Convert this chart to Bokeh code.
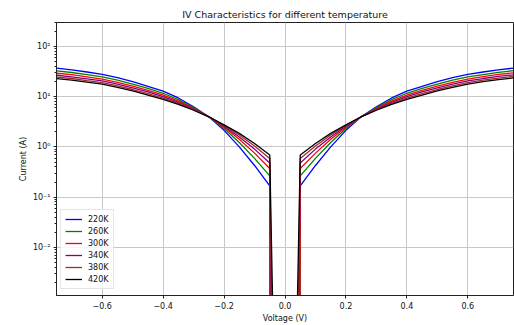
import math
from bokeh.plotting import figure
from bokeh.models import Range1d, FixedTicker, Legend, LegendItem
from bokeh.embed import file_html
from bokeh.resources import INLINE

# ---------------- data ----------------
temperatures = ["220K", "260K", "300K", "340K", "380K", "420K"]
colors = ["#0000ff", "#008000", "#ff0000", "#800080", "#a52a2a", "#000000"]

v_neg = [-0.75, -0.70, -0.65, -0.60, -0.55, -0.50, -0.45, -0.40,
         -0.35, -0.30, -0.25, -0.20, -0.15, -0.10, -0.05]
v_pos = [0.05, 0.10, 0.15, 0.20, 0.25, 0.30, 0.35, 0.40,
         0.45, 0.50, 0.55, 0.60, 0.65, 0.70, 0.75]
v_tail_neg = -0.04
v_tail_pos = 0.04

i_neg_220 = [37.0, 34.3, 31.0, 27.7, 23.9, 19.9, 16.1, 12.9, 9.44, 6.31, 3.98, 2.14, 1.00, 0.427, 0.167]
i_neg_260 = [32.7, 30.3, 27.5, 24.7, 21.3, 17.8, 14.6, 11.7, 8.74, 6.05, 3.98, 2.32, 1.22, 0.592, 0.265]
i_neg_300 = [29.3, 27.4, 24.8, 22.4, 19.3, 16.2, 13.3, 10.7, 8.18, 5.83, 3.98, 2.46, 1.42, 0.752, 0.371]
i_neg_340 = [26.7, 24.9, 22.7, 20.6, 17.7, 15.0, 12.4, 9.98, 7.72, 5.66, 3.98, 2.58, 1.58, 0.904, 0.480]
i_neg_380 = [24.6, 23.0, 20.9, 19.1, 16.4, 13.9, 11.5, 9.35, 7.33, 5.51, 3.98, 2.67, 1.73, 1.04, 0.587]
i_neg_420 = [22.8, 21.4, 19.5, 17.8, 15.3, 13.0, 10.8, 8.81, 7.00, 5.37, 3.98, 2.75, 1.86, 1.17, 0.693]

i_pos_220 = [0.167, 0.427, 1.00, 2.14, 3.98, 6.31, 9.44, 12.9, 16.1, 19.9, 23.9, 27.7, 31.0, 34.3, 37.0]
i_pos_260 = [0.265, 0.592, 1.22, 2.32, 3.98, 6.05, 8.74, 11.7, 14.6, 17.8, 21.3, 24.7, 27.6, 30.5, 33.0]
i_pos_300 = [0.371, 0.752, 1.42, 2.46, 3.98, 5.83, 8.18, 10.7, 13.3, 16.2, 19.3, 22.4, 25.0, 27.7, 29.8]
i_pos_340 = [0.480, 0.904, 1.58, 2.58, 3.98, 5.66, 7.72, 9.98, 12.4, 15.0, 17.7, 20.6, 23.0, 25.3, 27.3]
i_pos_380 = [0.587, 1.04, 1.73, 2.67, 3.98, 5.51, 7.33, 9.35, 11.5, 13.9, 16.4, 19.1, 21.3, 23.5, 25.3]
i_pos_420 = [0.693, 1.17, 1.86, 2.75, 3.98, 5.37, 7.00, 8.81, 10.8, 13.0, 15.3, 17.8, 19.9, 21.9, 23.6]

# current just inside |V| = 0.04 (far below the visible range)
i_tail = [1e-30, 1e-30, 1e-30, 1e-6, 1e-5, 5e-4]

x_ticks = [-0.6, -0.4, -0.2, 0, 0.2, 0.4, 0.6]
x_tick_labels = ["\u22120.6", "\u22120.4", "\u22120.2", "0.0", "0.2", "0.4", "0.6"]
y_ticks = [1e-2, 1e-1, 1, 10, 100]
y_tick_labels = ["10\u207b\u00b2", "10\u207b\u00b9", "10\u2070", "10\u00b9", "10\u00b2"]

neg_series = [i_neg_220, i_neg_260, i_neg_300, i_neg_340, i_neg_380, i_neg_420]
pos_series = [i_pos_220, i_pos_260, i_pos_300, i_pos_340, i_pos_380, i_pos_420]

# ---------------- figure ----------------
FONT = "DejaVu Sans"
p = figure(width=514, height=325, output_backend="svg", toolbar_location=None,
           y_axis_type="log",
           x_range=Range1d(-0.75, 0.75), y_range=Range1d(1.1e-3, 300),
           min_border_left=56, min_border_right=1, min_border_top=22, min_border_bottom=30,
           title="IV Characteristics for different temperature")
p.background_fill_color = "white"
p.border_fill_color = "white"
p.outline_line_color = "#222222"
p.outline_line_width = 1

p.title.text_font = FONT
p.title.text_font_size = "9.5px"
p.title.text_font_style = "normal"
p.title.align = "center"
p.title.text_color = "#111111"
p.title.standoff = 5

nan = float("nan")
items = []
for name, col, neg, pos, tail in zip(temperatures, colors, neg_series, pos_series, i_tail):
    xs = v_neg + [v_tail_neg, nan, v_tail_pos] + v_pos
    ys = neg + [tail, nan, tail] + pos
    r = p.line(xs, ys, line_color=col, line_width=1.3)
    items.append(LegendItem(label=name, renderers=[r]))

for ax in (p.xaxis[0], p.yaxis[0]):
    ax.axis_line_color = "#222222"
    ax.major_tick_line_color = "#222222"
    ax.minor_tick_line_color = "#222222"
    ax.major_tick_in = 0
    ax.major_tick_out = 3
    ax.minor_tick_in = 0
    ax.minor_tick_out = 2
    ax.major_label_text_font = FONT
    ax.major_label_text_font_size = "8px"
    ax.major_label_text_color = "#111111"
    ax.major_label_standoff = 3
    ax.axis_label_text_font = FONT
    ax.axis_label_text_font_size = "8px"
    ax.axis_label_text_font_style = "normal"
    ax.axis_label_text_color = "#111111"
    ax.axis_label_standoff = 2

p.xaxis.axis_label = "Voltage (V)"
p.yaxis.axis_label = "Current (A)"

p.xaxis.ticker = FixedTicker(ticks=x_ticks)
p.xaxis.major_label_overrides = dict(zip(x_ticks, x_tick_labels))
minor_y = [m * 10.0 ** k for k in range(-3, 3) for m in range(2, 10)]
p.yaxis.ticker = FixedTicker(ticks=y_ticks, minor_ticks=minor_y)
p.yaxis.major_label_overrides = dict(zip(y_ticks, y_tick_labels))

p.xgrid.grid_line_color = "#c8c8c8"
p.ygrid.grid_line_color = "#c8c8c8"
p.xgrid.grid_line_width = 1
p.ygrid.grid_line_width = 1
p.ygrid.minor_grid_line_color = None

legend = Legend(items=items, location=(4, 6))
legend.label_text_font = FONT
legend.label_text_font_size = "8px"
legend.label_text_color = "#111111"
legend.glyph_width = 17
legend.glyph_height = 10
legend.label_height = 10
legend.label_standoff = 6
legend.spacing = 2
legend.padding = 4
legend.margin = 0
legend.border_line_color = "#cccccc"
legend.border_line_width = 1
legend.background_fill_color = "white"
legend.background_fill_alpha = 0.8
p.add_layout(legend, "center")

open("out.html", "w").write(file_html(p, INLINE))
